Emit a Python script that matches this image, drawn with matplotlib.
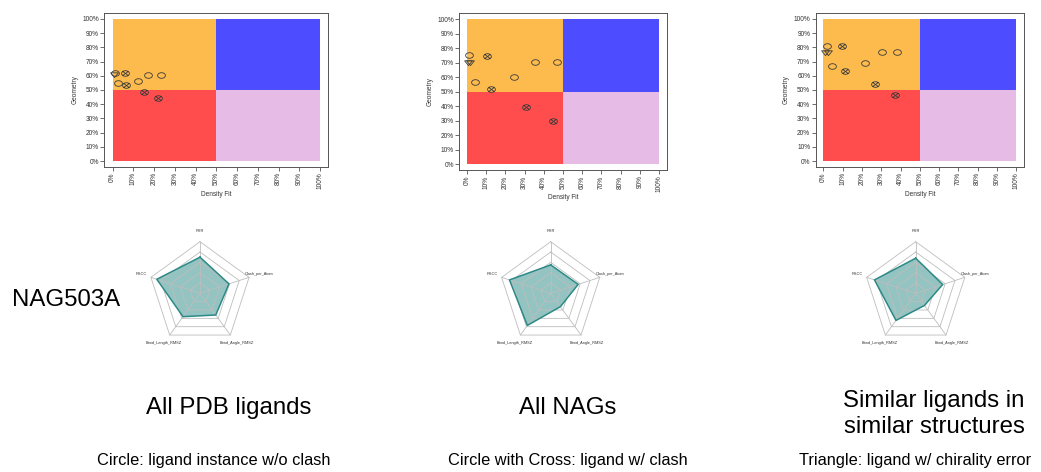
import numpy as np
import matplotlib
matplotlib.use("Agg")
import matplotlib.pyplot as plt
from matplotlib.path import Path
from matplotlib.transforms import Affine2D

plt.rcParams['font.family'] = ['Liberation Sans', 'DejaVu Sans']

# Datos de cada panel: puntos (Density Fit, Geometry) en porcentaje
circ1_x = [1.0, 2.6, 12.1, 16.9, 23.4]
circ1_y = [62.0, 55.2, 56.4, 60.4, 60.4]
cruz1_x = [5.8, 6.6, 15.0, 21.9]
cruz1_y = [62.2, 53.5, 48.6, 44.6]
tri1_x = [0.8]
tri1_y = [61.0]

circ2_x = [1.2, 4.3, 24.6, 35.3, 47.1]
circ2_y = [75.1, 56.4, 60.0, 70.4, 70.4]
cruz2_x = [10.2, 12.3, 30.8, 44.8]
cruz2_y = [74.4, 52.0, 39.7, 29.8]
tri2_x = [0.6, 1.6]
tri2_y = [70.5, 70.5]

circ3_x = [1.6, 4.3, 21.8, 30.6, 38.1]
circ3_y = [80.9, 66.7, 68.9, 77.1, 77.1]
cruz3_x = [9.5, 11.4, 27.0, 37.0]
cruz3_y = [80.7, 63.4, 54.5, 46.2]
tri3_x = [0.7, 2.4]
tri3_y = [77.1, 77.1]

# Datos del radar (fraccion del radio exterior)
radar_ejes = ['RSR', 'Clash_per_Atom', 'Bond_Angle_RMSZ', 'Bond_Length_RMSZ', 'RSCC']
radar1 = [0.70, 0.59, 0.52, 0.56, 0.88]
radar2 = [0.55, 0.56, 0.32, 0.77, 0.84]
radar3 = [0.68, 0.55, 0.29, 0.65, 0.84]

ticks = list(range(0, 101, 10))
tick_labels = [f'{t}%' for t in ticks]

titulos = ['All PDB ligands', 'All NAGs', 'Similar ligands in\nsimilar structures']
leyendas = ['Circle: ligand instance w/o clash',
            'Circle with Cross: ligand w/ clash',
            'Triangle: ligand w/ chirality error']
ligando = 'NAG503A'

# Marcadores algo achatados (circulo, circulo con cruz, triangulo)
aplastar = Affine2D().scale(1, 0.72)
m_circ = aplastar.transform_path(Path.unit_circle())
m_cruz = Path.make_compound_path(
    m_circ,
    Path([[-0.68, -0.5], [0.68, 0.5]]),
    Path([[-0.68, 0.5], [0.68, -0.5]]))
m_tri = aplastar.transform_path(Path([[-1, 0.6], [1, 0.6], [0, -1.1], [-1, 0.6]], closed=True))

W, H = 1041, 472
fig = plt.figure(figsize=(W / 100, H / 100), dpi=100)


def ejes_px(left, top, width, height, **kw):
    return fig.add_axes([left / W, 1 - (top + height) / H, width / W, height / H], **kw)


def panel_dispersion(ax, cx, cy, kx, ky, tx, ty):
    # cuadrantes de color
    ax.fill_between([0, 50], 50, 100, color='#FDBB4D', lw=0)
    ax.fill_between([50, 100], 50, 100, color='#4D4DFF', lw=0)
    ax.fill_between([0, 50], 0, 50, color='#FF4D4D', lw=0)
    ax.fill_between([50, 100], 0, 50, color='#E6BBE6', lw=0)
    mk = dict(linestyle='none', markerfacecolor='none', markeredgecolor='#3a3a3a',
              markeredgewidth=0.6, markersize=5.6)
    ax.plot(cx, cy, marker=m_circ, **mk)
    ax.plot(kx, ky, marker=m_cruz, **mk)
    ax.plot(tx, ty, marker=m_tri, **mk)
    ax.set_xlim(-4, 104)
    ax.set_ylim(-4, 104)
    ax.set_xticks(ticks)
    ax.set_xticklabels(tick_labels, rotation=90)
    ax.set_yticks(ticks)
    ax.set_yticklabels(tick_labels)
    ax.tick_params(labelsize=4.7, length=2.7, width=0.5, pad=1.2, colors='#333333')
    ax.set_xlabel('Density Fit', fontsize=4.7, labelpad=1.5, color='#333333')
    ax.set_ylabel('Geometry', fontsize=4.7, labelpad=2.5, color='#333333')
    for s in ax.spines.values():
        s.set_color('#555555')
        s.set_linewidth(0.7)


def panel_radar(ax, valores):
    ang = np.deg2rad(90 - 72 * np.arange(len(radar_ejes)))
    ang_c = np.append(ang, ang[0])
    for r in [0.2, 0.4, 0.6, 0.8, 1.0]:
        ax.plot(r * np.cos(ang_c), r * np.sin(ang_c), color='#BDBDBD', lw=0.6)
    for a in ang:
        ax.plot([0, np.cos(a)], [0, np.sin(a)], color='#BDBDBD', lw=0.6)
    v = np.append(valores, valores[0])
    ax.fill(v * np.cos(ang_c), v * np.sin(ang_c), color='#2B8A86', alpha=0.5, lw=0)
    ax.plot(v * np.cos(ang_c), v * np.sin(ang_c), color='#2B8A86', lw=1.1)
    for a, nombre in zip(ang, radar_ejes):
        ax.text(1.2 * np.cos(a), 1.2 * np.sin(a), nombre, fontsize=2.8,
                ha='center', va='center', color='#333333')
    L = 75 / 51.6
    ax.set_xlim(-L, L)
    ax.set_ylim(-L, L)
    ax.set_aspect('equal')
    ax.axis('off')


# Paneles de dispersion (posicion en pixeles del marco)
ax1 = ejes_px(104.3, 13.3, 224.0, 153.4)
panel_dispersion(ax1, circ1_x, circ1_y, cruz1_x, cruz1_y, tri1_x, tri1_y)
ax2 = ejes_px(459.3, 13.3, 207.4, 156.7)
panel_dispersion(ax2, circ2_x, circ2_y, cruz2_x, cruz2_y, tri2_x, tri2_y)
ax3 = ejes_px(815.7, 13.3, 208.3, 153.4)
panel_dispersion(ax3, circ3_x, circ3_y, cruz3_x, cruz3_y, tri3_x, tri3_y)

# Radares
for cx, vals in [(200.0, radar1), (550.7, radar2), (915.7, radar3)]:
    ax = ejes_px(cx - 75, 293.3 - 75, 150, 150)
    panel_radar(ax, vals)

# Textos
fig.text(12 / W, 1 - 300 / H, ligando, fontsize=17.3, ha='left', va='center')
for x, t in zip([228.5, 568.0, 934.0], titulos):
    y = 408 if '\n' not in t else 414
    fig.text(x / W, 1 - y / H, t, fontsize=17.3, ha='center', va='center', linespacing=1.22)
for x, t in zip([213.3, 568.0, 915.0], leyendas):
    fig.text(x / W, 1 - 461 / H, t, fontsize=11.8, ha='center', va='center')

fig.savefig('out.png', dpi=100)
